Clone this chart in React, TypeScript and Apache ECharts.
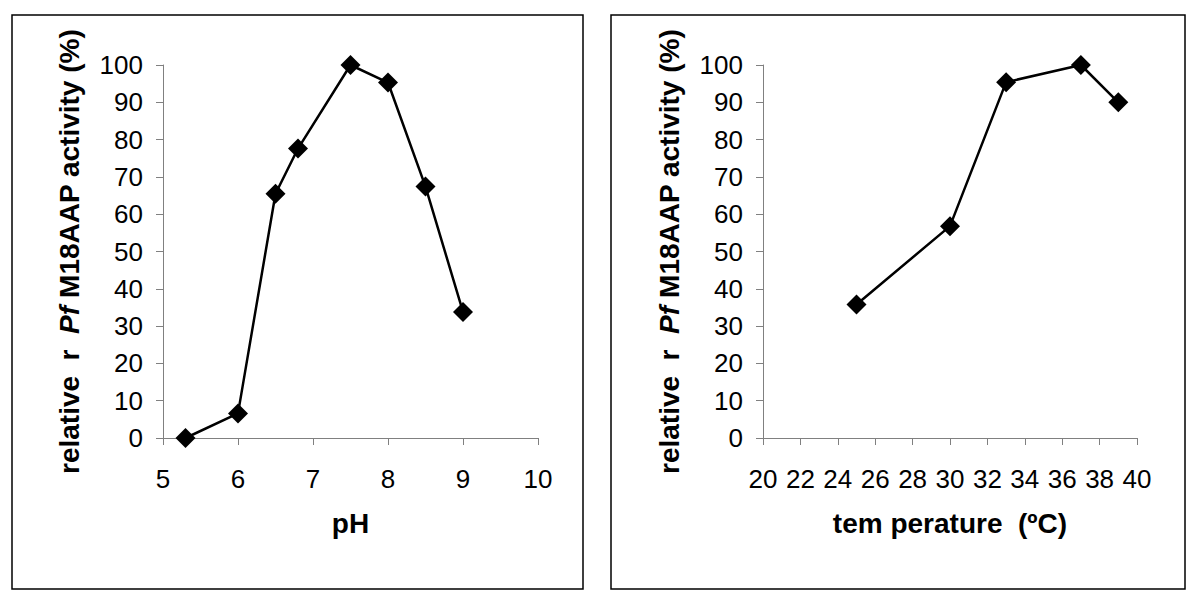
import React, { useEffect, useRef } from "react";
import * as echarts from "echarts";

const phValues = [5.3, 6, 6.5, 6.8, 7.5, 8, 8.5, 9];
const phActivity = [0, 6.6, 65.5, 77.6, 100, 95.3, 67.4, 33.8];
const tempValues = [25, 30, 33, 37, 39];
const tempActivity = [35.8, 56.8, 95.4, 100, 90];

const yTitle = "{b|relative  r  }{bi|Pf}{b| M18AAP activity (%)}";
const phTitle = "pH";
const tempTitle = "tem perature  (ºC)";

const FONT = "'Liberation Sans', Arial, sans-serif";

export default function App() {
  const ref = useRef<HTMLDivElement>(null);
  useEffect(() => {
    if (!ref.current) return;
    const chart = echarts.init(ref.current, null, { renderer: "svg" });
    const axisLine = { show: true, lineStyle: { color: "#808080", width: 1 } };
    const axisTick = { show: true, length: 7, lineStyle: { color: "#808080", width: 1 } };
    const label = (margin: number) => ({
      fontSize: 26,
      color: "#000",
      fontFamily: FONT,
      margin,
    });
    const richTitle = {
      b: { fontSize: 28, fontWeight: "bold", color: "#000", fontFamily: FONT },
      bi: { fontSize: 28, fontWeight: "bold", fontStyle: "italic", color: "#000", fontFamily: FONT },
    };
    const xTitleStyle = { fontSize: 28, fontWeight: "bold", color: "#000", fontFamily: FONT };
    const yAxisBase = (gridIndex: number) => ({
      type: "value",
      gridIndex,
      min: 0,
      max: 100,
      interval: 10,
      axisLine,
      axisTick,
      splitLine: { show: false },
      axisLabel: label(20),
      name: yTitle,
      nameLocation: "middle",
      nameGap: 80,
      nameTextStyle: { rich: richTitle },
    });
    const lineSeries = (i: number, xs: number[], ys: number[]) => ({
      type: "line",
      xAxisIndex: i,
      yAxisIndex: i,
      data: xs.map((x, k) => [x, ys[k]]),
      symbol: "diamond",
      symbolSize: 20,
      itemStyle: { color: "#000" },
      lineStyle: { color: "#000", width: 2.5 },
      z: 3,
    });
    chart.setOption({
      animation: false,
      backgroundColor: "#fff",
      grid: [
        { left: 163, top: 65, width: 375, height: 373 },
        { left: 763, top: 65, width: 374, height: 373 },
      ],
      xAxis: [
        {
          type: "value",
          gridIndex: 0,
          min: 5,
          max: 10,
          interval: 1,
          axisLine,
          axisTick,
          splitLine: { show: false },
          axisLabel: label(28),
          name: phTitle,
          nameLocation: "middle",
          nameGap: 71,
          nameTextStyle: xTitleStyle,
        },
        {
          type: "value",
          gridIndex: 1,
          min: 20,
          max: 40,
          interval: 2,
          axisLine,
          axisTick,
          splitLine: { show: false },
          axisLabel: label(28),
          name: tempTitle,
          nameLocation: "middle",
          nameGap: 71,
          nameTextStyle: xTitleStyle,
        },
      ],
      yAxis: [yAxisBase(0), yAxisBase(1)],
      series: [lineSeries(0, phValues, phActivity), lineSeries(1, tempValues, tempActivity)],
      graphic: [
        {
          type: "rect",
          shape: { x: 12, y: 15, width: 571, height: 574 },
          style: { fill: "none", stroke: "#000", lineWidth: 1.5 },
          silent: true,
        },
        {
          type: "rect",
          shape: { x: 611, y: 15, width: 574, height: 574 },
          style: { fill: "none", stroke: "#000", lineWidth: 1.5 },
          silent: true,
        },
      ],
    });
    return () => chart.dispose();
  }, []);
  return (
    <div
      ref={ref}
      style={{ position: "fixed", left: 0, top: 0, width: 1200, height: 602, background: "#fff" }}
    />
  );
}
